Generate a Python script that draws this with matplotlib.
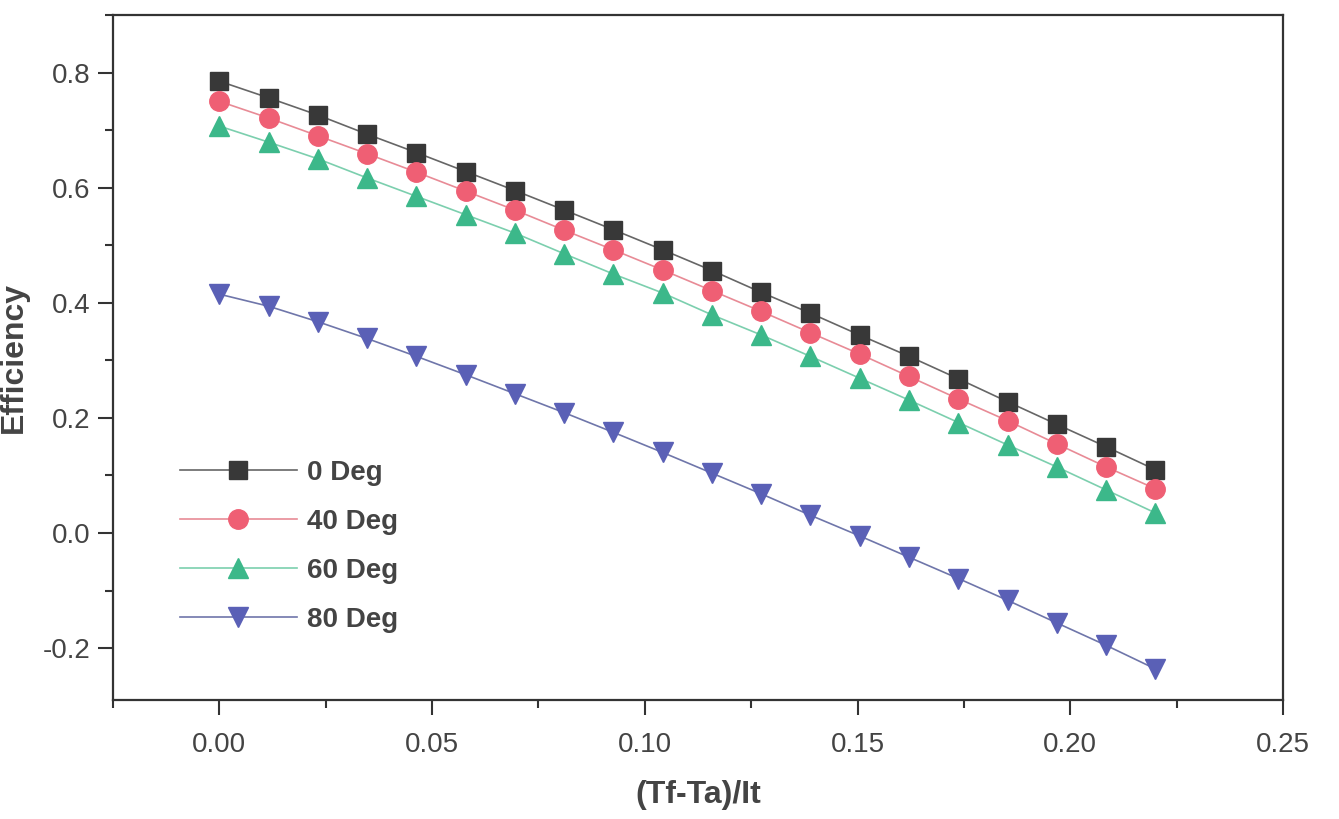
import matplotlib
matplotlib.use("Agg")
import matplotlib.pyplot as plt
from matplotlib.ticker import MultipleLocator, FormatStrFormatter

plt.rcParams['font.family'] = ['Liberation Sans', 'DejaVu Sans']

# (Tf-Ta)/It values
x = [0.000, 0.0116, 0.0232, 0.0347, 0.0463, 0.0579, 0.0695, 0.0811, 0.0926, 0.1042,
     0.1158, 0.1274, 0.1389, 0.1505, 0.1621, 0.1737, 0.1853, 0.1968, 0.2084, 0.2200]

eff_0 = [0.785, 0.756, 0.726, 0.693, 0.661, 0.628, 0.595, 0.561, 0.527, 0.492,
         0.456, 0.418, 0.382, 0.344, 0.307, 0.268, 0.228, 0.189, 0.150, 0.110]
eff_40 = [0.750, 0.721, 0.690, 0.659, 0.627, 0.594, 0.561, 0.526, 0.492, 0.457,
          0.421, 0.385, 0.348, 0.311, 0.272, 0.233, 0.195, 0.155, 0.115, 0.077]
eff_60 = [0.707, 0.679, 0.650, 0.617, 0.585, 0.553, 0.521, 0.485, 0.450, 0.417,
          0.379, 0.344, 0.307, 0.269, 0.231, 0.192, 0.153, 0.115, 0.075, 0.035]
eff_80 = [0.415, 0.394, 0.367, 0.338, 0.307, 0.275, 0.242, 0.209, 0.175, 0.140,
          0.104, 0.068, 0.031, -0.005, -0.042, -0.079, -0.117, -0.156, -0.195, -0.236]

labels = ["0 Deg", "40 Deg", "60 Deg", "80 Deg"]


def main():
    fig = plt.figure(figsize=(13.39, 8.19), dpi=100)
    ax = fig.add_axes([0.0844, 0.1453, 0.8738, 0.8364])

    # marker, face colour, line colour, marker size
    series = [
        (eff_0, "s", "#383838", "#666666", 13),
        (eff_40, "o", "#ef5f74", "#e88b96", 14),
        (eff_60, "^", "#3cb88a", "#7ccfae", 15),
        (eff_80, "v", "#5a60b6", "#6f76aa", 15),
    ]
    for (y, m, fc, lc, ms), lab in zip(series, labels):
        ax.plot(x, y, color=lc, lw=1.2, marker=m, markersize=ms,
                markerfacecolor=fc, markeredgecolor=fc, label=lab)

    ax.set_xlim(-0.025, 0.25)
    ax.set_ylim(-0.29, 0.9)
    ax.xaxis.set_major_locator(MultipleLocator(0.05))
    ax.xaxis.set_minor_locator(MultipleLocator(0.025))
    ax.yaxis.set_major_locator(MultipleLocator(0.2))
    ax.yaxis.set_minor_locator(MultipleLocator(0.1))
    ax.xaxis.set_major_formatter(FormatStrFormatter("%.2f"))
    ax.yaxis.set_major_formatter(FormatStrFormatter("%.1f"))

    for s in ax.spines.values():
        s.set_linewidth(1.6)
        s.set_color("#333333")
    ax.tick_params(which="major", direction="out", length=11, width=1.5,
                   labelsize=20, colors="#333333", labelcolor="#444444", pad=5)
    ax.tick_params(which="minor", direction="out", length=6, width=1.5,
                   colors="#333333")
    ax.tick_params(axis="x", pad=12)

    ax.set_xlabel("(Tf-Ta)/It", fontsize=23, fontweight="bold", color="#444444",
                  labelpad=16)
    ax.set_ylabel("Efficiency", fontsize=23, fontweight="bold", color="#444444",
                  labelpad=10)

    leg = ax.legend(loc="lower left", bbox_to_anchor=(0.036, 0.062), frameon=False,
                    handlelength=4.2, labelspacing=0.82, handletextpad=0.35,
                    prop={"size": 20, "weight": "bold"})
    for t in leg.get_texts():
        t.set_color("#444444")

    fig.savefig("out.png", dpi=100)


if __name__ == "__main__":
    main()
